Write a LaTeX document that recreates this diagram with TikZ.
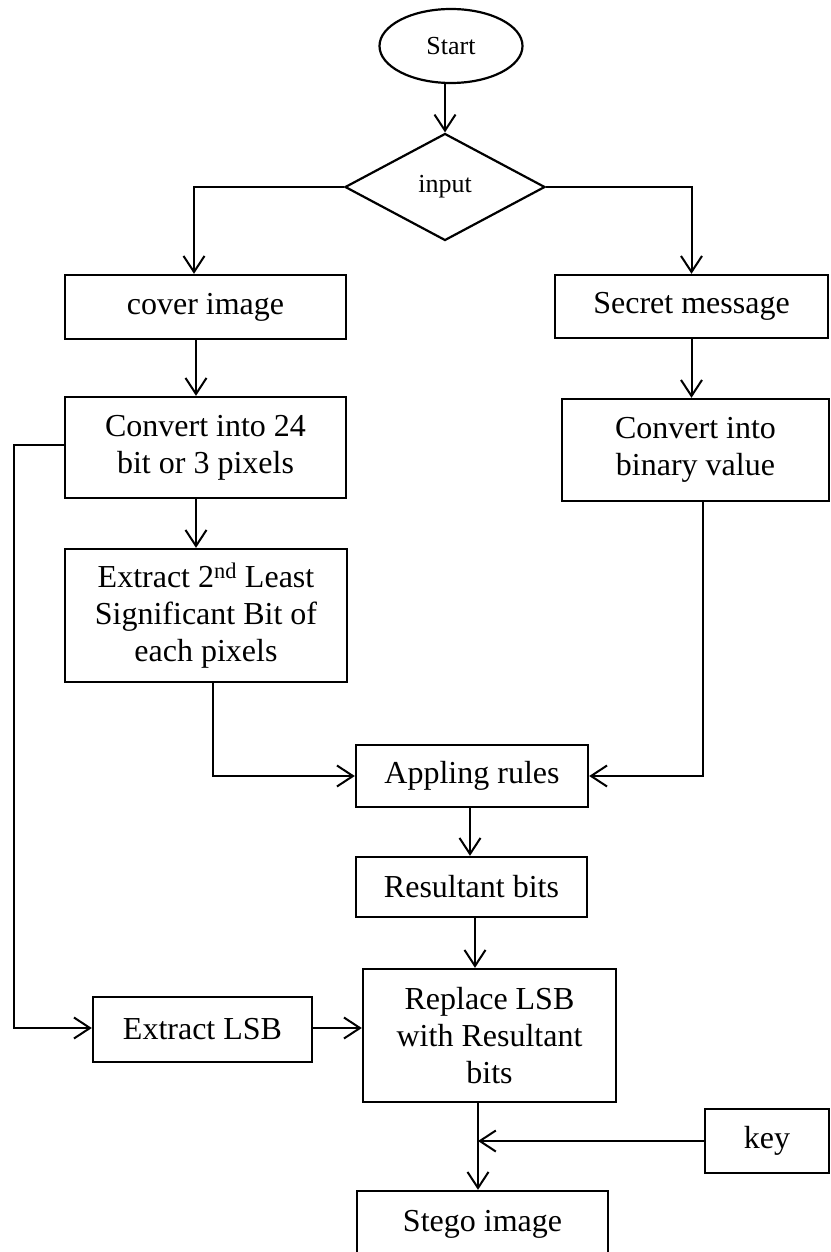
\documentclass[tikz,border=0pt]{standalone}
\usepackage{fontspec}
\setmainfont{Liberation Serif}
\usetikzlibrary{shapes.geometric,arrows.meta}

\begin{document}
\begin{tikzpicture}[x=1pt,y=-1pt,
  stepbox/.style={draw, rectangle, line width=2.4pt, inner sep=0pt, align=center,
                  font=\fontsize{32}{37}\selectfont},
  arr/.style={line width=2pt,
              -{Straight Barb[length=16pt,width=21pt,line width=2pt]}}]

% page frame
\useasboundingbox (0,0) rectangle (830,1252);
\clip (0,0) rectangle (830,1252);

% terminal and decision
\node[draw, ellipse, line width=2.2pt, minimum width=143pt, minimum height=74pt, inner sep=0pt,
      font=\fontsize{26}{30}\selectfont] (start) at (451,46) {Start};
\node[draw, diamond, line width=2.2pt, minimum width=200pt, minimum height=107pt, inner sep=0pt,
      font=\fontsize{26}{30}\selectfont] (input) at (445,187) {input};

% left column: cover image
\node[stepbox, minimum width=281pt, minimum height=64pt]  (cover)  at (205.5,307)   {cover image};
\node[stepbox, minimum width=281pt, minimum height=101pt] (conv24) at (205.5,447.5) {Convert into 24\\bit or 3 pixels};
\node[stepbox, minimum width=282pt, minimum height=133pt] (ext2)   at (206,615.5)   {Extract 2\textsuperscript{nd} Least\\Significant Bit of\\each pixels};

% right column: secret message
\node[stepbox, minimum width=273pt, minimum height=63pt]  (secret)  at (691.5,306.5) {Secret message};
\node[stepbox, minimum width=267pt, minimum height=102pt] (convbin) at (695.5,450)   {Convert into\\binary value};

% embedding stage
\node[stepbox, minimum width=232pt, minimum height=62pt]  (appl)    at (472,776)     {Appling rules};
\node[stepbox, minimum width=231pt, minimum height=60pt]  (result)  at (471.5,887)   {Resultant bits};
\node[stepbox, minimum width=253pt, minimum height=133pt] (replace) at (489.5,1035.5){Replace LSB\\with Resultant\\bits};
\node[stepbox, minimum width=219pt, minimum height=65pt]  (extlsb)  at (202.5,1029.5){Extract LSB};
\node[stepbox, minimum width=124pt, minimum height=64pt]  (key)     at (767,1141)    {key};
\node[stepbox, minimum width=251pt, minimum height=66pt]  (stego)   at (482.5,1224)  {\raisebox{6pt}{Stego image}};

% routing points
\coordinate (lbranch) at (194,187);
\coordinate (ltrail)  at (14,445);
\coordinate (cvx)     at (196,0);
\coordinate (e2x)     at (213,0);
\coordinate (cbx)     at (703,0);
\coordinate (rbx)     at (470,0);
\coordinate (rsx)     at (475,0);
\coordinate (outx)    at (478,0);
\coordinate (join)    at (478,1141);

% connectors
\draw[arr] (input.north |- start.south) -- (input.north);
\draw[arr] (input.west) -- (lbranch) -- (lbranch |- cover.north);
\draw[arr] (input.east) -| (secret.north);
\draw[arr] (cvx |- cover.south) -- (cvx |- conv24.north);
\draw[arr] (cvx |- conv24.south) -- (cvx |- ext2.north);
\draw[arr] (secret.south) -- (secret.south |- convbin.north);
\draw[arr] (e2x |- ext2.south) |- (appl.west);
\draw[arr] (cbx |- convbin.south) |- (appl.east);
\draw[arr] (rbx |- appl.south) -- (rbx |- result.north);
\draw[arr] (rsx |- result.south) -- (rsx |- replace.north);
\draw[arr] (conv24.west |- ltrail) -- (ltrail) |- ([yshift=1.5pt]extlsb.west);
\draw[arr] ([yshift=1.5pt]extlsb.east) -- ([yshift=1.5pt]extlsb.east -| replace.west);
\draw[arr] (outx |- replace.south) -- (outx |- stego.north);
\draw[arr] (key.west) -- (join);

\end{tikzpicture}
\end{document}
